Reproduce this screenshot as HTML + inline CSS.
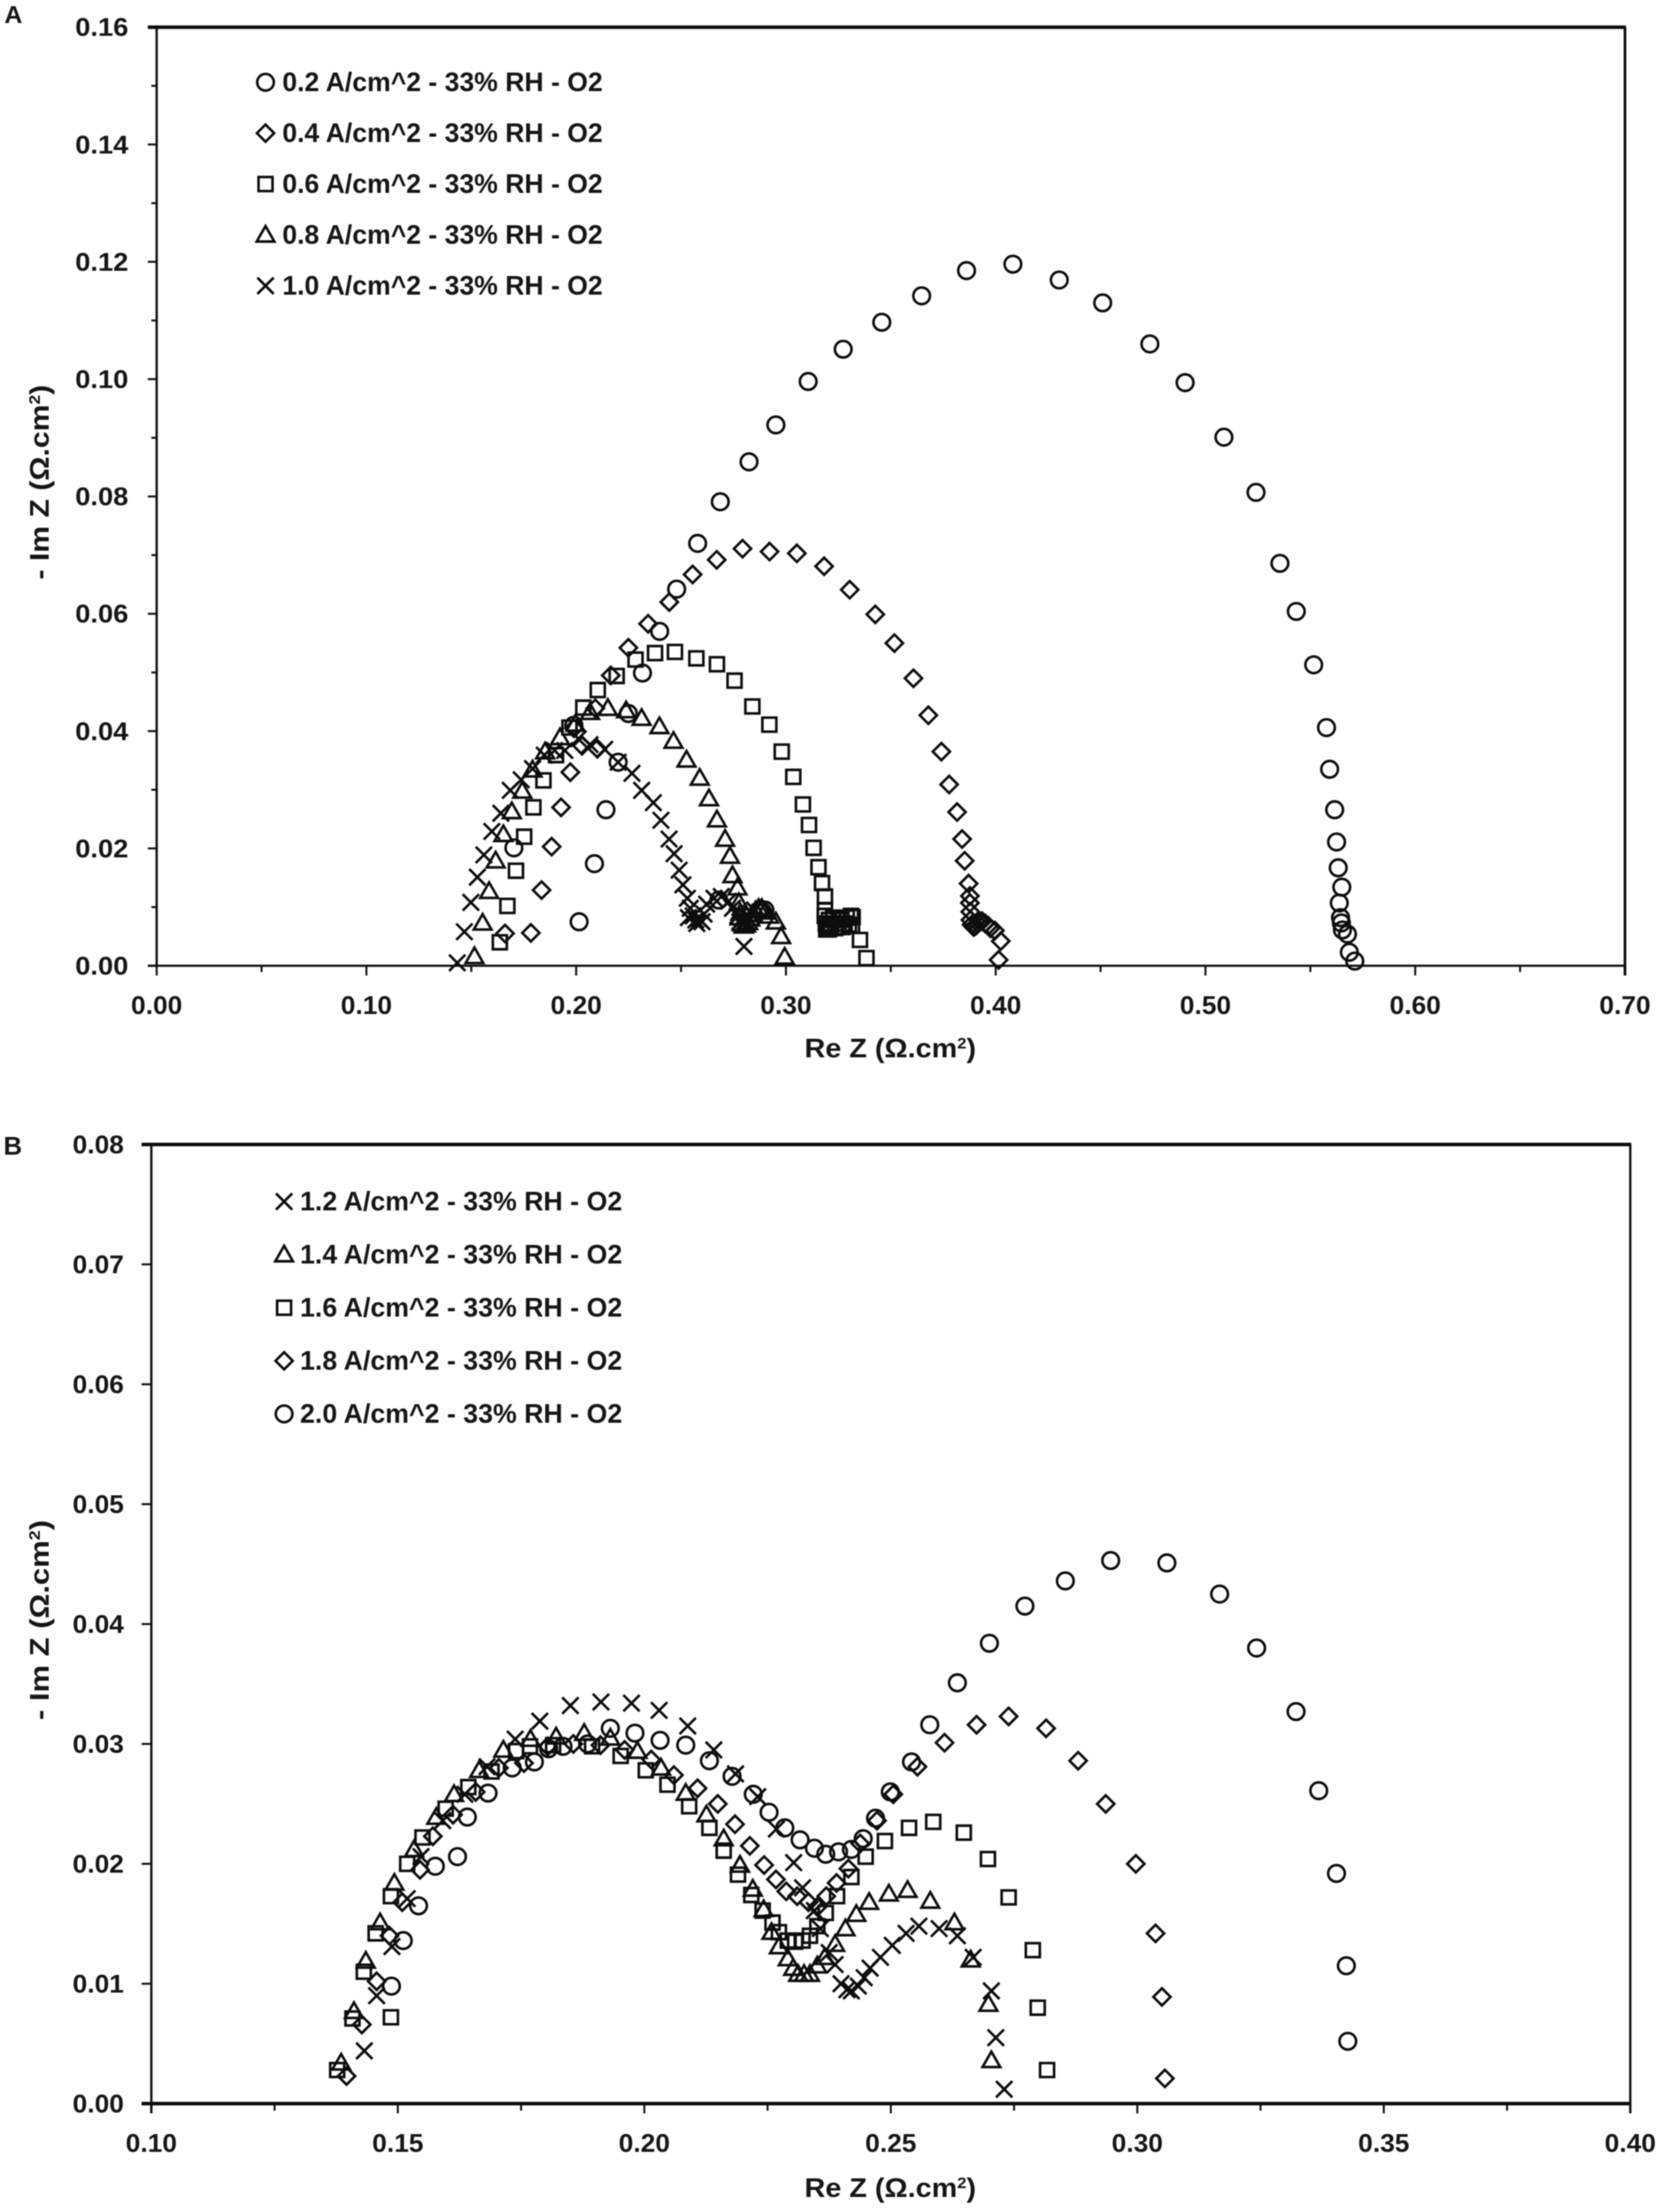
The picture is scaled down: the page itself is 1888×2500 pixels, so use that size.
<!DOCTYPE html>
<html lang="en">
<head>
<meta charset="utf-8">
<title>Nyquist plots at 33% RH in O2</title>
<style>
html,body{margin:0;padding:0;background:#fff;}
svg{display:block;}
text{font-family:"Liberation Sans",sans-serif;font-weight:bold;fill:#141414;}
</style>
</head>
<body>
<svg id="figure" xmlns="http://www.w3.org/2000/svg" width="1888" height="2500" viewBox="0 0 1888 2500">
  <defs><filter id="soft" x="-2%" y="-2%" width="104%" height="104%"><feGaussianBlur stdDeviation="0.55"/></filter></defs>
  <rect width="1888" height="2500" fill="#fff"/>
  <g id="root" filter="url(#soft)">
    <text x="5" y="26" font-size="28">A</text>
    <text x="4" y="1305" font-size="29">B</text>

    <g id="panelA">
      <text font-size="31" transform="translate(909,1195) scale(1.05,1)">Re Z (Ω.cm<tspan dy="-10" font-size="18">2</tspan><tspan dy="10">)</tspan></text>
      <text font-size="31" transform="translate(55,655) rotate(-90) scale(1.1,1)">- Im Z (Ω.cm<tspan dy="-10" font-size="18">2</tspan><tspan dy="10">)</tspan></text>
    </g>
    <g id="panelB">
      <text font-size="31" transform="translate(909,2483) scale(1.05,1)">Re Z (Ω.cm<tspan dy="-10" font-size="18">2</tspan><tspan dy="10">)</tspan></text>
      <text font-size="31" transform="translate(55,1944) rotate(-90) scale(1.13,1)">- Im Z (Ω.cm<tspan dy="-10" font-size="18">2</tspan><tspan dy="10">)</tspan></text>
    </g>
  </g>
</svg>
<script>
// ---- Panel A tick labels ----
const aXTickValues = [0, 0.1, 0.2, 0.3, 0.4, 0.5, 0.6, 0.7];
const aXTickLabels = ['0.00','0.10','0.20','0.30','0.40','0.50','0.60','0.70'];
const aXMinorValues = [0.05, 0.15, 0.25, 0.35, 0.45, 0.55, 0.65];
const aYTickValues = [0, 0.02, 0.04, 0.06, 0.08, 0.10, 0.12, 0.14, 0.16];
const aYTickLabels = ['0.00','0.02','0.04','0.06','0.08','0.10','0.12','0.14','0.16'];
const aYMinorValues = [0.01, 0.03, 0.05, 0.07, 0.09, 0.11, 0.13, 0.15];

// ---- Panel A series ----
const aLegendLabels = ['0.2 A/cm^2 - 33% RH - O2','0.4 A/cm^2 - 33% RH - O2','0.6 A/cm^2 - 33% RH - O2','0.8 A/cm^2 - 33% RH - O2','1.0 A/cm^2 - 33% RH - O2'];
const aLegendMarkers = ['circle','diamond','square','triangle','cross'];

const a02X = [0.2014,0.2087,0.2142,0.2200,0.2249,0.2316,0.2398,0.2479,0.2579,0.2687,0.2824,0.2952,0.3106,0.3273,0.3457,0.3647,0.3861,0.4082,0.4303,0.4510,0.4735,0.4903,0.5088,0.5241,0.5355,0.5433,0.5516,0.5577,0.5592,0.5616,0.5625,0.5633,0.5650,0.5638,0.5644,0.5648,0.5653,0.5677,0.5686,0.5712,0.1703,0.1989,0.2680,0.2880,0.2900];
const a02Y = [0.0075,0.0174,0.0266,0.0347,0.0430,0.0499,0.0570,0.0642,0.0720,0.0791,0.0859,0.0922,0.0996,0.1051,0.1097,0.1142,0.1185,0.1196,0.1169,0.1130,0.1060,0.0994,0.0901,0.0807,0.0686,0.0604,0.0513,0.0406,0.0335,0.0266,0.0211,0.0167,0.0134,0.0107,0.0082,0.0073,0.0061,0.0054,0.0023,0.0008,0.0201,0.0410,0.0112,0.0095,0.0095];

const a04X = [0.1784,0.1835,0.1883,0.1928,0.1972,0.2028,0.2091,0.2165,0.2249,0.2343,0.2444,0.2555,0.2670,0.2793,0.2922,0.3052,0.3182,0.3304,0.3426,0.3517,0.3608,0.3679,0.3741,0.3778,0.3816,0.3840,0.3852,0.3871,0.3877,0.3877,0.3879,0.3880,0.3885,0.3895,0.3905,0.3915,0.3925,0.3935,0.3950,0.3965,0.3975,0.3996,0.4024,0.4014,0.1661,0.2101,0.1989];
const a04Y = [0.0056,0.0129,0.0203,0.0270,0.0330,0.0375,0.0439,0.0495,0.0542,0.0583,0.0620,0.0667,0.0692,0.0711,0.0706,0.0703,0.0681,0.0641,0.0599,0.0550,0.0490,0.0427,0.0365,0.0309,0.0262,0.0216,0.0179,0.0140,0.0119,0.0107,0.0092,0.0078,0.0070,0.0066,0.0068,0.0072,0.0075,0.0076,0.0072,0.0068,0.0064,0.0060,0.0042,0.0010,0.0055,0.0370,0.0405];

const a06X = [0.1636,0.1672,0.1713,0.1752,0.1796,0.1844,0.1904,0.1968,0.2034,0.2103,0.2193,0.2283,0.2376,0.2471,0.2573,0.2671,0.2755,0.2840,0.2921,0.2980,0.3035,0.3081,0.3110,0.3132,0.3155,0.3172,0.3186,0.3186,0.3185,0.3190,0.3200,0.3192,0.3205,0.3215,0.3225,0.3235,0.3250,0.3265,0.3280,0.3290,0.3300,0.3310,0.3205,0.3235,0.3270,0.3318,0.3315,0.3353,0.3384];
const a06Y = [0.0040,0.0102,0.0162,0.0220,0.0270,0.0316,0.0359,0.0406,0.0440,0.0470,0.0494,0.0522,0.0533,0.0535,0.0524,0.0514,0.0486,0.0442,0.0411,0.0365,0.0322,0.0275,0.0240,0.0201,0.0168,0.0141,0.0118,0.0095,0.0085,0.0072,0.0066,0.0062,0.0078,0.0068,0.0082,0.0072,0.0066,0.0078,0.0072,0.0082,0.0070,0.0085,0.0062,0.0064,0.0066,0.0083,0.0068,0.0044,0.0013];

const a08X = [0.1515,0.1554,0.1585,0.1616,0.1653,0.1693,0.1743,0.1792,0.1852,0.1923,0.1996,0.2066,0.2151,0.2238,0.2312,0.2397,0.2464,0.2526,0.2589,0.2633,0.2671,0.2710,0.2733,0.2745,0.2769,0.2776,0.2783,0.2780,0.2790,0.2800,0.2810,0.2820,0.2830,0.2840,0.2855,0.2870,0.2885,0.2900,0.2920,0.2952,0.2977,0.2994];
const a08Y = [0.0016,0.0073,0.0127,0.0179,0.0224,0.0263,0.0298,0.0334,0.0365,0.0389,0.0412,0.0432,0.0439,0.0435,0.0422,0.0408,0.0383,0.0351,0.0320,0.0285,0.0249,0.0216,0.0187,0.0154,0.0133,0.0108,0.0090,0.0082,0.0072,0.0068,0.0070,0.0074,0.0080,0.0088,0.0094,0.0098,0.0098,0.0092,0.0085,0.0075,0.0050,0.0015];

const a10X = [0.1433,0.1467,0.1498,0.1529,0.1560,0.1598,0.1641,0.1686,0.1738,0.1792,0.1848,0.1897,0.1946,0.2010,0.2066,0.2136,0.2200,0.2266,0.2312,0.2368,0.2404,0.2443,0.2467,0.2491,0.2509,0.2530,0.2544,0.2535,0.2558,0.2570,0.2586,0.2600,0.2575,0.2610,0.2622,0.2657,0.2692,0.2727,0.2745,0.2770,0.2780,0.2790,0.2800,0.2810,0.2820,0.2835,0.2850,0.2800];
const a10Y = [0.0005,0.0058,0.0108,0.0151,0.0189,0.0229,0.0260,0.0299,0.0317,0.0336,0.0359,0.0367,0.0367,0.0387,0.0377,0.0369,0.0347,0.0328,0.0299,0.0278,0.0248,0.0216,0.0191,0.0163,0.0138,0.0115,0.0098,0.0082,0.0085,0.0078,0.0080,0.0075,0.0072,0.0088,0.0105,0.0115,0.0118,0.0110,0.0098,0.0085,0.0075,0.0070,0.0072,0.0075,0.0082,0.0090,0.0095,0.0033];

// ---- Panel B tick labels ----
const bXTickValues = [0.10, 0.15, 0.20, 0.25, 0.30, 0.35, 0.40];
const bXTickLabels = ['0.10','0.15','0.20','0.25','0.30','0.35','0.40'];
const bXMinorValues = [0.125, 0.175, 0.225, 0.275, 0.325, 0.375];
const bYTickValues = [0, 0.01, 0.02, 0.03, 0.04, 0.05, 0.06, 0.07, 0.08];
const bYTickLabels = ['0.00','0.01','0.02','0.03','0.04','0.05','0.06','0.07','0.08'];

// ---- Panel B series ----
const bLegendLabels = ['1.2 A/cm^2 - 33% RH - O2','1.4 A/cm^2 - 33% RH - O2','1.6 A/cm^2 - 33% RH - O2','1.8 A/cm^2 - 33% RH - O2','2.0 A/cm^2 - 33% RH - O2'];
const bLegendMarkers = ['cross','triangle','square','diamond','circle'];

const b12X = [0.1432,0.1457,0.1488,0.1519,0.1547,0.1591,0.1636,0.1681,0.1738,0.1788,0.1850,0.1912,0.1974,0.2030,0.2088,0.2141,0.2185,0.2230,0.2268,0.2303,0.2321,0.2345,0.2357,0.2375,0.2387,0.2399,0.2411,0.2420,0.2434,0.2446,0.2458,0.2479,0.2503,0.2531,0.2557,0.2598,0.2635,0.2667,0.2704,0.2713,0.2730];
const b12Y = [0.0044,0.0090,0.0131,0.0171,0.0206,0.0236,0.0258,0.0281,0.0304,0.0319,0.0332,0.0335,0.0334,0.0328,0.0315,0.0295,0.0275,0.0256,0.0229,0.0201,0.0180,0.0161,0.0146,0.0126,0.0116,0.0100,0.0095,0.0094,0.0098,0.0105,0.0113,0.0122,0.0132,0.0142,0.0148,0.0146,0.0140,0.0122,0.0094,0.0055,0.0012];

const b14X = [0.1385,0.1411,0.1435,0.1464,0.1493,0.1533,0.1578,0.1614,0.1665,0.1714,0.1769,0.1821,0.1878,0.1931,0.1986,0.2034,0.2084,0.2126,0.2161,0.2194,0.2220,0.2242,0.2258,0.2273,0.2291,0.2302,0.2312,0.2324,0.2336,0.2351,0.2366,0.2387,0.2408,0.2430,0.2456,0.2496,0.2534,0.2580,0.2629,0.2662,0.2698,0.2704];
const b14Y = [0.0034,0.0077,0.0119,0.0151,0.0184,0.0212,0.0239,0.0258,0.0278,0.0295,0.0304,0.0306,0.0309,0.0305,0.0294,0.0280,0.0259,0.0241,0.0221,0.0199,0.0179,0.0162,0.0143,0.0131,0.0121,0.0113,0.0108,0.0108,0.0108,0.0115,0.0122,0.0133,0.0146,0.0158,0.0168,0.0175,0.0178,0.0169,0.0151,0.0120,0.0083,0.0036];

const b16X = [0.1377,0.1408,0.1431,0.1455,0.1486,0.1486,0.1519,0.1550,0.1597,0.1643,0.1690,0.1740,0.1768,0.1815,0.1894,0.1952,0.2003,0.2047,0.2091,0.2132,0.2161,0.2190,0.2217,0.2240,0.2260,0.2273,0.2291,0.2306,0.2321,0.2336,0.2351,0.2368,0.2391,0.2420,0.2449,0.2488,0.2537,0.2586,0.2648,0.2697,0.2739,0.2788,0.2798,0.2817];
const b16Y = [0.0028,0.0071,0.0110,0.0142,0.0072,0.0173,0.0200,0.0222,0.0246,0.0264,0.0277,0.0294,0.0298,0.0299,0.0298,0.0290,0.0278,0.0266,0.0248,0.0230,0.0211,0.0191,0.0174,0.0161,0.0151,0.0143,0.0136,0.0135,0.0136,0.0140,0.0148,0.0159,0.0173,0.0189,0.0206,0.0219,0.0230,0.0235,0.0226,0.0204,0.0172,0.0128,0.0080,0.0028];

const b18X = [0.1396,0.1427,0.1457,0.1483,0.1509,0.1545,0.1571,0.1612,0.1658,0.1705,0.1756,0.1804,0.1856,0.1911,0.1960,0.2014,0.2060,0.2108,0.2149,0.2184,0.2214,0.2243,0.2267,0.2288,0.2310,0.2333,0.2351,0.2369,0.2390,0.2414,0.2438,0.2472,0.2505,0.2554,0.2609,0.2674,0.2739,0.2815,0.2880,0.2936,0.2997,0.3037,0.3050,0.3056];
const b18Y = [0.0023,0.0066,0.0102,0.0140,0.0168,0.0195,0.0223,0.0241,0.0260,0.0280,0.0284,0.0298,0.0300,0.0299,0.0295,0.0287,0.0274,0.0263,0.0250,0.0233,0.0215,0.0199,0.0187,0.0177,0.0173,0.0168,0.0164,0.0173,0.0184,0.0196,0.0217,0.0236,0.0258,0.0281,0.0301,0.0316,0.0323,0.0313,0.0286,0.0250,0.0200,0.0142,0.0089,0.0021];

const b20X = [0.1487,0.1511,0.1542,0.1576,0.1621,0.1641,0.1683,0.1732,0.1777,0.1806,0.1835,0.1885,0.1931,0.1981,0.2032,0.2084,0.2132,0.2178,0.2221,0.2253,0.2285,0.2316,0.2345,0.2368,0.2394,0.2420,0.2444,0.2469,0.2499,0.2542,0.2579,0.2635,0.2700,0.2772,0.2854,0.2946,0.3060,0.3167,0.3242,0.3322,0.3368,0.3404,0.3424,0.3427];
const b20Y = [0.0098,0.0136,0.0165,0.0198,0.0206,0.0239,0.0259,0.0280,0.0285,0.0296,0.0298,0.0300,0.0313,0.0309,0.0303,0.0299,0.0286,0.0273,0.0258,0.0243,0.0230,0.0220,0.0213,0.0208,0.0210,0.0212,0.0221,0.0238,0.0260,0.0285,0.0316,0.0351,0.0384,0.0415,0.0436,0.0453,0.0451,0.0425,0.0380,0.0327,0.0261,0.0192,0.0115,0.0052];

// ---- Axis functions ----
const NS = 'http://www.w3.org/2000/svg';
function xA(v) { return 177 + v * 2370; }
function yA(v) { return 1091.5 - v * 6630; }
function xB(v) { return 171 + (v - 0.1) * 5570; }
function yB(v) { return 2377.5 - v * 13550; }

function line(parent, name, x1, y1, x2, y2, sw) {
  const el = document.createElementNS(NS, 'line');
  
  
  el.setAttribute('x1', x1);
  el.setAttribute('y1', y1);
  el.setAttribute('x2', x2);
  el.setAttribute('y2', y2);
  el.setAttribute('stroke', '#111');
  el.setAttribute('stroke-width', sw);
  parent.appendChild(el);
  return el;
}
function label(parent, name, str, x, y, anchor, width) {
  const el = document.createElementNS(NS, 'text');
  
  
  el.setAttribute('x', x);
  el.setAttribute('y', y);
  el.setAttribute('font-size', '29');
  el.setAttribute('text-anchor', anchor);
  el.setAttribute('textLength', width);
  el.setAttribute('lengthAdjust', 'spacingAndGlyphs');
  el.textContent = str;
  parent.appendChild(el);
  return el;
}
function marker(parent, name, kind, cx, cy) {
  let el;
  if (kind === 'circle') {
    el = document.createElementNS(NS, 'circle');
    el.setAttribute('cx', cx);
    el.setAttribute('cy', cy);
    el.setAttribute('r', 9.4);
  } else {
    el = document.createElementNS(NS, 'path');
    let d = '';
    if (kind === 'diamond') d = 'M' + cx + ' ' + (cy - 9.7) + 'L' + (cx + 9.7) + ' ' + cy + 'L' + cx + ' ' + (cy + 9.7) + 'L' + (cx - 9.7) + ' ' + cy + 'Z';
    if (kind === 'square') d = 'M' + (cx - 7.9) + ' ' + (cy - 7.9) + 'H' + (cx + 7.9) + 'V' + (cy + 7.9) + 'H' + (cx - 7.9) + 'Z';
    if (kind === 'triangle') d = 'M' + cx + ' ' + (cy - 10) + 'L' + (cx + 10) + ' ' + (cy + 7.5) + 'H' + (cx - 10) + 'Z';
    if (kind === 'cross') d = 'M' + (cx - 9.2) + ' ' + (cy - 9.2) + 'L' + (cx + 9.2) + ' ' + (cy + 9.2) + 'M' + (cx + 9.2) + ' ' + (cy - 9.2) + 'L' + (cx - 9.2) + ' ' + (cy + 9.2);
    el.setAttribute('d', d);
  }
  
  
  el.setAttribute('fill', 'none');
  el.setAttribute('stroke', '#0a0a0a');
  el.setAttribute('stroke-width', '2.9');
  parent.appendChild(el);
  return el;
}
function series(parent, name, kind, xs, ys, fx, fy) {
  const g = document.createElementNS(NS, 'g');
  
  
  for (let i = 0; i < xs.length; i++) {
    marker(g, name + '-point', kind, fx(xs[i]), fy(ys[i]));
  }
  parent.appendChild(g);
}
function legend(parent, prefix, labels, kinds, mx, tx, tw, y0, dy) {
  for (let i = 0; i < labels.length; i++) {
    const cy = y0 + dy * i;
    marker(parent, prefix + '-legend-marker', kinds[i], mx, cy);
    const t = label(parent, prefix + '-legend-entry', labels[i], tx, cy + 10, 'start', tw);
    t.setAttribute('font-size', '31');
  }
}

// ---- Panel A ----
const pA = document.getElementById('panelA');
line(pA, 'panel-a-left-axis', xA(0), yA(0.16) - 2, xA(0), yA(0) + 1, 2.6);
line(pA, 'panel-a-top-border', xA(0) - 10, yA(0.16), xA(0.7) + 1, yA(0.16), 4);
line(pA, 'panel-a-right-border', xA(0.7), yA(0.16), xA(0.7), yA(0) + 11, 3);
line(pA, 'panel-a-bottom-axis', xA(0) - 10, yA(0), xA(0.7) + 1, yA(0), 2.6);
aXTickValues.forEach(function (v, i) {
  line(pA, 'panel-a-x-tick', xA(v), yA(0), xA(v), yA(0) + 11, 2.2);
  label(pA, 'panel-a-x-tick-label', aXTickLabels[i], xA(v), 1146, 'middle', 58);
});
aXMinorValues.forEach(function (v) {
  line(pA, 'panel-a-x-minor-tick', xA(v), yA(0), xA(v), yA(0) + 7, 2.2);
});
aYTickValues.forEach(function (v, i) {
  line(pA, 'panel-a-y-tick', xA(0) - 10, yA(v), xA(0), yA(v), 2.2);
  label(pA, 'panel-a-y-tick-label', aYTickLabels[i], 145, yA(v) + 10, 'end', 60);
});
aYMinorValues.forEach(function (v) {
  line(pA, 'panel-a-y-minor-tick', xA(0) - 6, yA(v), xA(0), yA(v), 2.2);
});
series(pA, 'series-0-2-a-cm2', 'circle', a02X, a02Y, xA, yA);
series(pA, 'series-0-4-a-cm2', 'diamond', a04X, a04Y, xA, yA);
series(pA, 'series-0-6-a-cm2', 'square', a06X, a06Y, xA, yA);
series(pA, 'series-0-8-a-cm2', 'triangle', a08X, a08Y, xA, yA);
series(pA, 'series-1-0-a-cm2', 'cross', a10X, a10Y, xA, yA);
legend(pA, 'panel-a', aLegendLabels, aLegendMarkers, 300, 319, 362, 93, 57.5);

// ---- Panel B ----
const pB = document.getElementById('panelB');
line(pB, 'panel-b-left-axis', xB(0.1), yB(0.08) - 2, xB(0.1), yB(0) + 11, 2.6);
line(pB, 'panel-b-top-border', xB(0.1) - 11, yB(0.08), xB(0.4) + 1, yB(0.08), 4);
line(pB, 'panel-b-right-border', xB(0.4), yB(0.08), xB(0.4), yB(0) + 11, 2.6);
line(pB, 'panel-b-bottom-axis', xB(0.1) - 11, yB(0), xB(0.4) + 1, yB(0), 4);
bXTickValues.forEach(function (v, i) {
  line(pB, 'panel-b-x-tick', xB(v), yB(0), xB(v), yB(0) + 11, 2.2);
  label(pB, 'panel-b-x-tick-label', bXTickLabels[i], xB(v), 2432, 'middle', 58);
});
bXMinorValues.forEach(function (v) {
  line(pB, 'panel-b-x-minor-tick', xB(v), yB(0), xB(v), yB(0) + 8, 2.2);
});
bYTickValues.forEach(function (v, i) {
  line(pB, 'panel-b-y-tick', xB(0.1) - 11, yB(v), xB(0.1), yB(v), 2.2);
  label(pB, 'panel-b-y-tick-label', bYTickLabels[i], 140, yB(v) + 10, 'end', 58);
});
series(pB, 'series-1-2-a-cm2', 'cross', b12X, b12Y, xB, yB);
series(pB, 'series-1-4-a-cm2', 'triangle', b14X, b14Y, xB, yB);
series(pB, 'series-1-6-a-cm2', 'square', b16X, b16Y, xB, yB);
series(pB, 'series-1-8-a-cm2', 'diamond', b18X, b18Y, xB, yB);
series(pB, 'series-2-0-a-cm2', 'circle', b20X, b20Y, xB, yB);
legend(pB, 'panel-b', bLegendLabels, bLegendMarkers, 321, 339, 364, 1358, 60);
</script>
</body>
</html>
